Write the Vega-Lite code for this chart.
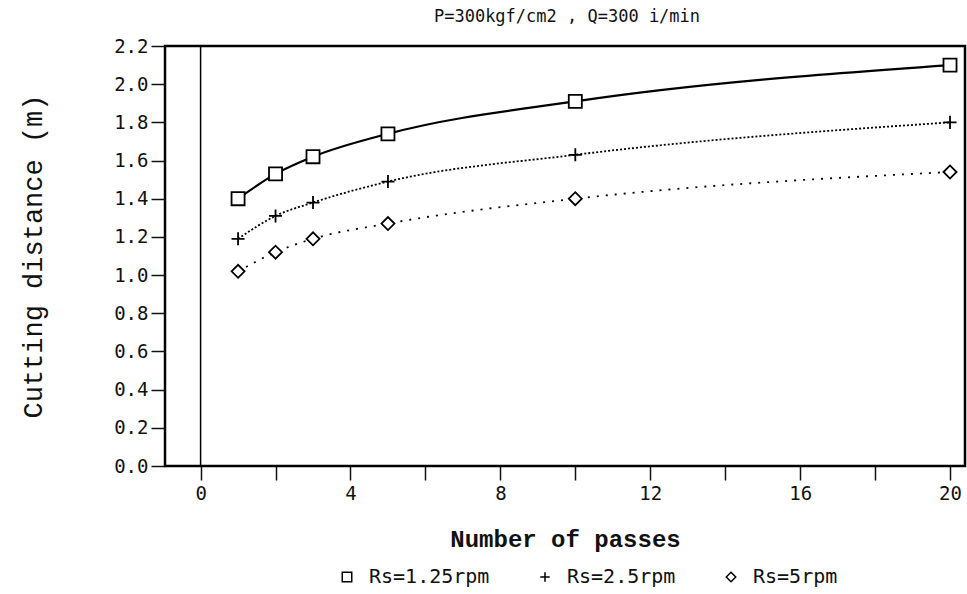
{
  "$schema": "https://vega.github.io/schema/vega-lite/v6.json",
  "width": 800,
  "height": 420,
  "autosize": "none",
  "padding": {"left": 165, "top": 46, "right": 2, "bottom": 128},
  "background": "white",
  "title": {"text": "P=300kgf/cm2 , Q=300 i/min", "font": "DejaVu Sans Mono", "fontSize": 17, "fontWeight": "normal", "color": "#111", "offset": 11, "anchor": "middle", "dx": 2},
  "config": {
    "view": {"stroke": "black", "strokeWidth": 2.5},
    "font": "DejaVu Sans Mono",
    "axis": {"domain": false, "grid": false, "labelFont": "DejaVu Sans Mono", "labelFontWeight": "normal", "titleFont": "Liberation Mono", "titleFontWeight": "bold", "labelColor": "#111", "titleColor": "#111", "tickColor": "#111"}
  },
  "datasets": {
    "pts": [
      {"passes": 1, "dist": 1.40, "series": "Rs=1.25rpm"},
      {"passes": 2, "dist": 1.53, "series": "Rs=1.25rpm"},
      {"passes": 3, "dist": 1.62, "series": "Rs=1.25rpm"},
      {"passes": 5, "dist": 1.74, "series": "Rs=1.25rpm"},
      {"passes": 10, "dist": 1.91, "series": "Rs=1.25rpm"},
      {"passes": 20, "dist": 2.10, "series": "Rs=1.25rpm"},
      {"passes": 1, "dist": 1.19, "series": "Rs=2.5rpm"},
      {"passes": 2, "dist": 1.31, "series": "Rs=2.5rpm"},
      {"passes": 3, "dist": 1.38, "series": "Rs=2.5rpm"},
      {"passes": 5, "dist": 1.49, "series": "Rs=2.5rpm"},
      {"passes": 10, "dist": 1.63, "series": "Rs=2.5rpm"},
      {"passes": 20, "dist": 1.80, "series": "Rs=2.5rpm"},
      {"passes": 1, "dist": 1.02, "series": "Rs=5rpm"},
      {"passes": 2, "dist": 1.12, "series": "Rs=5rpm"},
      {"passes": 3, "dist": 1.19, "series": "Rs=5rpm"},
      {"passes": 5, "dist": 1.27, "series": "Rs=5rpm"},
      {"passes": 10, "dist": 1.40, "series": "Rs=5rpm"},
      {"passes": 20, "dist": 1.54, "series": "Rs=5rpm"}
    ]
  },
  "encoding": {
    "x": {"field": "passes", "type": "quantitative", "scale": {"domain": [-0.95, 20.4], "nice": false, "zero": false},
      "axis": {"values": [0, 2, 4, 6, 8, 10, 12, 14, 16, 18, 20], "labelExpr": "datum.value % 4 === 0 ? datum.label : ''", "labelOverlap": false, "tickSize": 14, "tickWidth": 1.5, "labelFontSize": 19, "labelPadding": 4, "title": "Number of passes", "titleFontSize": 24, "titlePadding": 24}},
    "y": {"field": "dist", "type": "quantitative", "scale": {"domain": [0, 2.2], "nice": false},
      "axis": {"values": [0, 0.2, 0.4, 0.6, 0.8, 1.0, 1.2, 1.4, 1.6, 1.8, 2.0, 2.2], "format": ".1f", "labelOverlap": false, "tickSize": 14, "tickWidth": 1.5, "labelFontSize": 19, "labelPadding": 3, "title": "Cutting distance (m)", "titleFontSize": 27, "titleFontWeight": "normal", "titlePadding": 66}}
  },
  "layer": [
    {
      "data": {"values": [{"passes": 0}]},
      "mark": {"type": "rule", "color": "black", "strokeWidth": 1.5},
      "encoding": {"y": null}
    },
    {
      "data": {"name": "pts"},
      "transform": [{"filter": "datum.series === 'Rs=1.25rpm'"}],
      "mark": {"type": "line", "interpolate": "monotone", "color": "black", "strokeWidth": 2.2}
    },
    {
      "data": {"name": "pts"},
      "transform": [{"filter": "datum.series === 'Rs=2.5rpm'"}],
      "mark": {"type": "line", "interpolate": "monotone", "color": "black", "strokeWidth": 1.8, "strokeDash": [2, 2]}
    },
    {
      "data": {"name": "pts"},
      "transform": [{"filter": "datum.series === 'Rs=5rpm'"}],
      "mark": {"type": "line", "interpolate": "monotone", "color": "black", "strokeWidth": 1.8, "strokeDash": [2, 7]}
    },
    {
      "data": {"name": "pts"},
      "mark": {"type": "point", "filled": true, "fill": "white", "stroke": "black", "strokeWidth": 1.8, "opacity": 1, "size": 170},
      "encoding": {
        "shape": {"field": "series", "type": "nominal", "scale": {"domain": ["Rs=1.25rpm", "Rs=2.5rpm", "Rs=5rpm"], "range": ["square", "M-1,0L1,0M0,-1L0,1", "diamond"]},
          "legend": {"orient": "none", "legendX": 172, "legendY": 521, "direction": "horizontal", "title": null, "labelFont": "DejaVu Sans Mono", "labelFontSize": 20, "labelFontWeight": "normal", "labelColor": "#111", "symbolSize": 90, "columnPadding": 45, "labelOffset": 12,
            "encode": {"symbols": {"update": {"stroke": {"value": "black"}, "fill": {"value": "white"}, "strokeWidth": {"value": 1.5}, "opacity": {"value": 1}}}}}}
      }
    }
  ]
}
